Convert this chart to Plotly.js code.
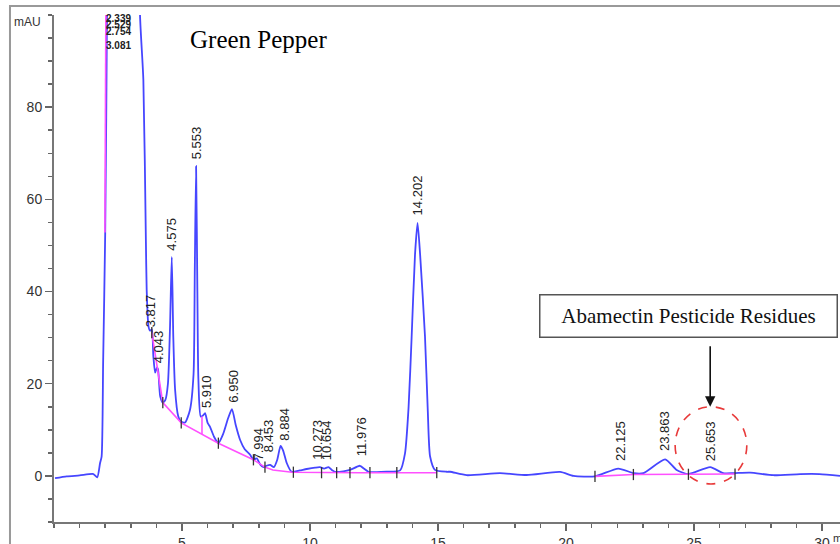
<!DOCTYPE html>
<html>
<head>
<meta charset="utf-8">
<script src="https://cdn.plot.ly/plotly-3.0.1.min.js"></script>
<style>html,body{margin:0;padding:0;background:#fff}#chart{width:840px;height:544px}</style>
</head>
<body>
<div id="chart"></div>
<script>
// Chromatogram signal (time in min, absorbance in mAU); values above 100 are off-scale
const signalTime = [0.04, 0.5, 1.0, 1.54, 1.69, 1.8, 1.86, 1.92, 2.0, 2.07, 2.1, 2.3, 3.1, 3.3, 3.36, 3.49, 3.59, 3.62, 3.69, 3.75, 3.82, 3.88, 3.95, 4.02, 4.06, 4.15, 4.25, 4.35, 4.45, 4.53, 4.6, 4.66, 4.73, 4.85, 4.95, 5.12, 5.31, 5.45, 5.5, 5.55, 5.6, 5.64, 5.73, 5.82, 5.9, 6.0, 6.09, 6.25, 6.42, 6.6, 6.8, 6.95, 7.1, 7.27, 7.45, 7.66, 7.79, 7.92, 8.05, 8.18, 8.3, 8.44, 8.59, 8.72, 8.85, 8.95, 9.09, 9.28, 9.6, 9.87, 10.2, 10.39, 10.55, 10.72, 10.85, 10.98, 11.3, 11.56, 11.95, 12.1, 12.28, 12.6, 12.99, 13.52, 13.71, 13.85, 13.97, 14.1, 14.2, 14.3, 14.49, 14.6, 14.69, 14.88, 15.34, 15.47, 16.12, 17.42, 18.46, 19.77, 20.29, 21.13, 22.04, 22.63, 23.02, 23.87, 24.32, 24.78, 25.63, 26.14, 26.54, 27.19, 28.1, 29.14, 29.9, 30.7];
const signalValue = [-0.5, -0.1, 0.1, 0.4, -0.3, 2.8, 4.2, 25, 52.8, 101, 150, 200, 200, 150, 100, 86, 50.7, 40.4, 32.5, 31.5, 31.8, 26, 22.4, 23.5, 23.2, 17.2, 15.9, 16.5, 20, 32, 47.5, 30, 18.7, 13, 11.8, 11.6, 14.3, 22, 45, 67.2, 40, 20.9, 12.9, 13.1, 13.6, 11.5, 10.7, 8.5, 7.1, 9, 12.5, 14.5, 11, 7.8, 5.8, 4.6, 3.5, 3.8, 2.5, 1.9, 2.2, 2.4, 1.9, 3.5, 6.5, 5.5, 2.8, 0.9, 1.2, 1.5, 1.8, 1.9, 1.6, 1.9, 1.3, 0.9, 1.0, 1.3, 2.2, 1.6, 0.9, 0.8, 0.9, 1.2, 4.9, 15, 30.3, 48, 54.9, 48, 30.3, 14, 4.2, 1.3, 0.9, 0.9, 0.15, 0.6, 0.2, 0.87, 0, -0.1, 1.6, 0.6, 0.6, 3.6, 1.3, 0.4, 1.9, 0.6, 0.6, 0.7, 0.15, 0.4, 0.4, 0];

// Integration baselines (null = gap)
const baseTime = [1.99, 2.04, null, 3.82, 4.25, 4.97, 6.42, 7.79, 8.24, 8.55, 9.3, 12.0, 14.95, null, 5.78, 5.78, null, 21.13, 22.63, 24.78, 26.6];
const baseValue = [52.8, 120, null, 31.1, 15.9, 11.5, 7.1, 3.5, 1.9, 1.3, 0.8, 0.7, 0.7, null, 9.1, 12.9, null, -0.1, 0.3, 0.35, 0.4];

// Peak start/end markers
const markTime = [3.82, 4.25, 4.97, 6.42, 7.79, 8.24, 9.35, 10.45, 11.04, 11.56, 12.34, 13.39, 14.95, 21.13, 22.63, 24.78, 26.6];
const markValue = [31.1, 15.9, 11.5, 7.1, 3.5, 1.9, 0.8, 0.7, 0.7, 0.7, 0.7, 0.7, 0.7, -0.1, 0.3, 0.35, 0.4];

// Peak retention-time labels (position of label foot)
const peakLabels = ["3.817", "4.043", "4.575", "5.553", "5.910", "6.950", "7.994", "8.453", "8.884", "10.273", "10.654", "11.976", "14.202", "22.125", "23.863", "25.653"];
const peakLabelTime = [3.75, 4.06, 4.6, 5.57, 5.96, 7.0, 7.97, 8.36, 9.0, 10.26, 10.63, 12.02, 14.18, 22.11, 23.87, 25.63];
const peakLabelValue = [31.7, 24.1, 48.5, 68.3, 14.3, 15.4, 2.8, 4.6, 7.2, 3.0, 3.0, 3.9, 56.1, 2.8, 5.0, 2.8];

// Crowded labels at the top of the off-scale cluster
const topLabels = ["2.339", "2.529", "2.754", "3.081"];
const topLabelTime = [2.52, 2.52, 2.52, 2.52];
const topLabelValue = [99.2, 97.9, 96.4, 93.4];

const xTicks = [5, 10, 15, 20, 25, 30];
const yTicks = [0, 20, 40, 60, 80];

const traces = [
  {x: signalTime, y: signalValue, type: 'scatter', mode: 'lines',
   line: {color: 'rgb(70,70,255)', width: 1.8, shape: 'spline', smoothing: 0.6}, hoverinfo: 'skip'},
  {x: baseTime, y: baseValue, type: 'scatter', mode: 'lines', connectgaps: false,
   line: {color: 'rgb(255,80,255)', width: 1.6}, hoverinfo: 'skip'},
  {x: markTime, y: markValue, type: 'scatter', mode: 'markers',
   marker: {symbol: 'line-ns', size: 8, line: {color: '#333', width: 1.3}}, hoverinfo: 'skip'}
];

const annotations = [];
peakLabels.forEach((t, i) => annotations.push({
  x: peakLabelTime[i], y: peakLabelValue[i], xref: 'x', yref: 'y', text: t,
  textangle: -90, showarrow: false, xanchor: 'center', yanchor: 'bottom',
  font: {family: 'Liberation Sans, Arial, sans-serif', size: 13, color: '#222'}
}));
topLabels.forEach((t, i) => annotations.push({
  x: topLabelTime[i], y: topLabelValue[i], xref: 'x', yref: 'y', text: '<b>' + t + '</b>',
  showarrow: false, xanchor: 'center', yanchor: 'middle',
  font: {family: 'Liberation Sans, Arial, sans-serif', size: 10, color: '#222'}
}));
annotations.push({
  xref: 'paper', yref: 'paper', x: -0.054, y: 0.986, xanchor: 'left', yanchor: 'middle',
  text: 'mAU', showarrow: false,
  font: {family: 'Liberation Sans, Arial, sans-serif', size: 12, color: '#333'}
});
annotations.push({
  xref: 'paper', yref: 'paper', x: 0.9885, y: -0.032, xanchor: 'left', yanchor: 'middle',
  text: 'min', showarrow: false,
  font: {family: 'Liberation Sans, Arial, sans-serif', size: 11, color: '#333'}
});
annotations.push({
  xref: 'x', yref: 'y', x: 24.79, y: 34.8, xanchor: 'center', yanchor: 'middle',
  text: 'Abamectin Pesticide Residues', showarrow: false,
  width: 292, height: 37, borderpad: 2, borderwidth: 1.5, bordercolor: '#555', bgcolor: '#fff',
  font: {family: 'Liberation Serif, Times New Roman, serif', size: 21, color: '#111'}
});
annotations.push({
  xref: 'x', yref: 'y', x: 25.63, y: 15.0, text: '', showarrow: true,
  ax: 0, ay: -62, arrowhead: 2, arrowsize: 1.3, arrowwidth: 1.6, arrowcolor: '#111', standoff: 0
});

const layout = {
  width: 840, height: 544,
  margin: {l: 54, r: 0, t: 15, b: 22},
  paper_bgcolor: '#fff', plot_bgcolor: '#fff',
  showlegend: false,
  title: {text: 'Green Pepper', x: 190 / 840, xanchor: 'left', xref: 'container',
          y: 1 - 39 / 544, yanchor: 'middle', yref: 'container',
          font: {family: 'Liberation Serif, Times New Roman, serif', size: 25, color: '#000'}},
  xaxis: {range: [0, 30.7], tickvals: xTicks, ticks: 'outside', ticklen: 7, tickwidth: 1.5,
          tickcolor: '#666', showline: true, linecolor: '#777', linewidth: 2,
          showgrid: false, zeroline: false,
          tickfont: {family: 'Liberation Sans, Arial, sans-serif', size: 14, color: '#333'},
          minor: {dtick: 1, tick0: 0, ticks: 'outside', ticklen: 4, tickwidth: 1.5, tickcolor: '#666', showgrid: false}},
  yaxis: {range: [-10, 100], tickvals: yTicks, ticks: 'outside', ticklen: 7, tickwidth: 1.5,
          tickcolor: '#666', showline: true, linecolor: '#777', linewidth: 2,
          showgrid: false, zeroline: false,
          tickfont: {family: 'Liberation Sans, Arial, sans-serif', size: 14, color: '#333'},
          minor: {dtick: 5, tick0: 0, ticks: 'outside', ticklen: 4, tickwidth: 1.5, tickcolor: '#666', showgrid: false}},
  shapes: [
    {type: 'rect', xref: 'paper', yref: 'paper', x0: -0.056, x1: 1.3, y0: -0.3, y1: 1.0178,
     line: {color: '#999', width: 2}, fillcolor: 'rgba(0,0,0,0)', layer: 'below'},
    {type: 'circle', xref: 'x', yref: 'y', x0: 24.26, x1: 27.06, y0: -1.74, y1: 15.0,
     line: {color: '#e83a3a', width: 1.6, dash: 'dash'}}
  ],
  annotations: annotations
};

Plotly.newPlot('chart', traces, layout, {displayModeBar: false, staticPlot: true});
</script>
</body>
</html>
